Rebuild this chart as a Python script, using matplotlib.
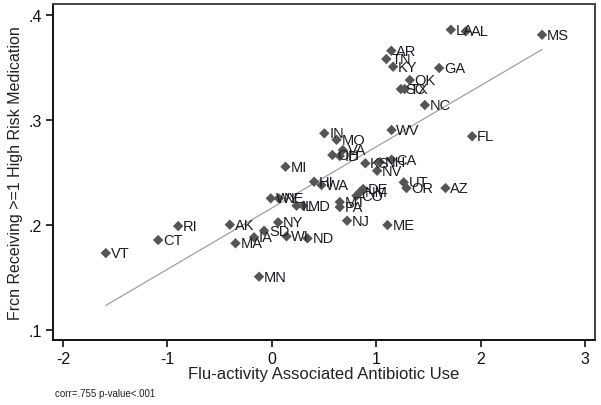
import numpy as np
import matplotlib
matplotlib.use("Agg")
import matplotlib.pyplot as plt

plt.rcParams['font.family'] = ['Liberation Sans', 'DejaVu Sans']

states = ["VT", "CT", "RI", "AK", "MA", "IA", "SD", "MN", "NY", "WI", "ND",
          "WY", "NE", "IL", "MD", "HI", "WA", "MI", "IN", "MO", "VA", "OH",
          "ID", "KS", "NH", "CA", "NV", "WV", "UT", "OR", "AZ", "DE", "NM",
          "CO", "PA", "MT", "NJ", "ME", "FL", "NC", "SC", "TX", "OK", "GA",
          "KY", "TN", "AR", "LA", "AL", "MS"]
antibiotic = [-1.59, -1.089, -0.897, -0.402, -0.348, -0.170, -0.074, -0.122,
              0.060, 0.141, 0.342, -0.010, 0.067, 0.237, 0.300, 0.405, 0.476,
              0.131, 0.503, 0.620, 0.680, 0.580, 0.651, 0.896, 1.034, 1.147,
              1.009, 1.147, 1.264, 1.290, 1.664, 0.875, 0.843, 0.811, 0.651,
              0.651, 0.721, 1.108, 1.919, 1.466, 1.236, 1.274, 1.322, 1.603,
              1.162, 1.097, 1.145, 1.715, 1.858, 2.589]
high_risk = [0.1733, 0.1857, 0.199, 0.2003, 0.1826, 0.1883, 0.1946, 0.1508,
             0.2026, 0.1892, 0.1873, 0.2254, 0.2254, 0.2184, 0.2184, 0.2412,
             0.2381, 0.2555, 0.2873, 0.2812, 0.2714, 0.2667, 0.2657, 0.2588,
             0.260, 0.2622, 0.2517, 0.2905, 0.2407, 0.2352, 0.2352, 0.2343,
             0.2311, 0.2279, 0.2171, 0.2219, 0.2041, 0.200, 0.2845, 0.3143,
             0.3295, 0.3295, 0.3381, 0.3495, 0.3508, 0.3581, 0.366, 0.386,
             0.3845, 0.3812]

xticks = [-2, -1, 0, 1, 2, 3]
yticks = [0.1, 0.2, 0.3, 0.4]
ytick_labels = [".1", ".2", ".3", ".4"]
xlabel = "Flu-activity Associated Antibiotic Use"
ylabel = "Frcn Receiving >=1 High Risk Medication"
note = "corr=.755 p-value<.001"

x = np.array(antibiotic)
y = np.array(high_risk)

W, H = 601, 406
fig = plt.figure(figsize=(W / 100, H / 100), dpi=100)
ax = fig.add_axes([53 / W, 1 - 341 / H, (595 - 53) / W, (341 - 5) / H])

# fit line
slope, intercept = np.polyfit(x, y, 1)
xs = np.array([x.min(), x.max()])
ax.plot(xs, intercept + slope * xs, color="#a0a0a0", lw=0.9, zorder=1)

ax.scatter(x, y, marker="D", s=28, color="#555555", edgecolors="none", zorder=2)
for s, xi, yi in zip(states, x, y):
    ax.annotate(s, (xi, yi), xytext=(3.5, 0), textcoords="offset points",
                va="center", ha="left", fontsize=10.5, color="#1c1c24", zorder=3)

ax.set_xlim(-2.096, 3.096)
ax.set_ylim(0.0905, 0.4105)
ax.set_xticks(xticks)
ax.set_xticklabels([str(t) for t in xticks])
ax.set_yticks(yticks)
ax.set_yticklabels(ytick_labels)
ax.tick_params(direction="out", length=5, width=1.2, labelsize=11.5,
               colors="#111111", pad=3)
for sp in ax.spines.values():
    sp.set_linewidth(1.4)
    sp.set_color("#111111")
ax.spines["top"].set_color("#444444")
ax.spines["right"].set_color("#444444")

ax.set_xlabel(xlabel, fontsize=12, color="#222222", labelpad=0)
ax.set_ylabel(ylabel, fontsize=11.5, color="#222222", labelpad=4)
fig.text(55 / W, 1 - 394 / H, note, fontsize=7, color="#222222",
         ha="left", va="center")

fig.savefig("out.png", dpi=100)
